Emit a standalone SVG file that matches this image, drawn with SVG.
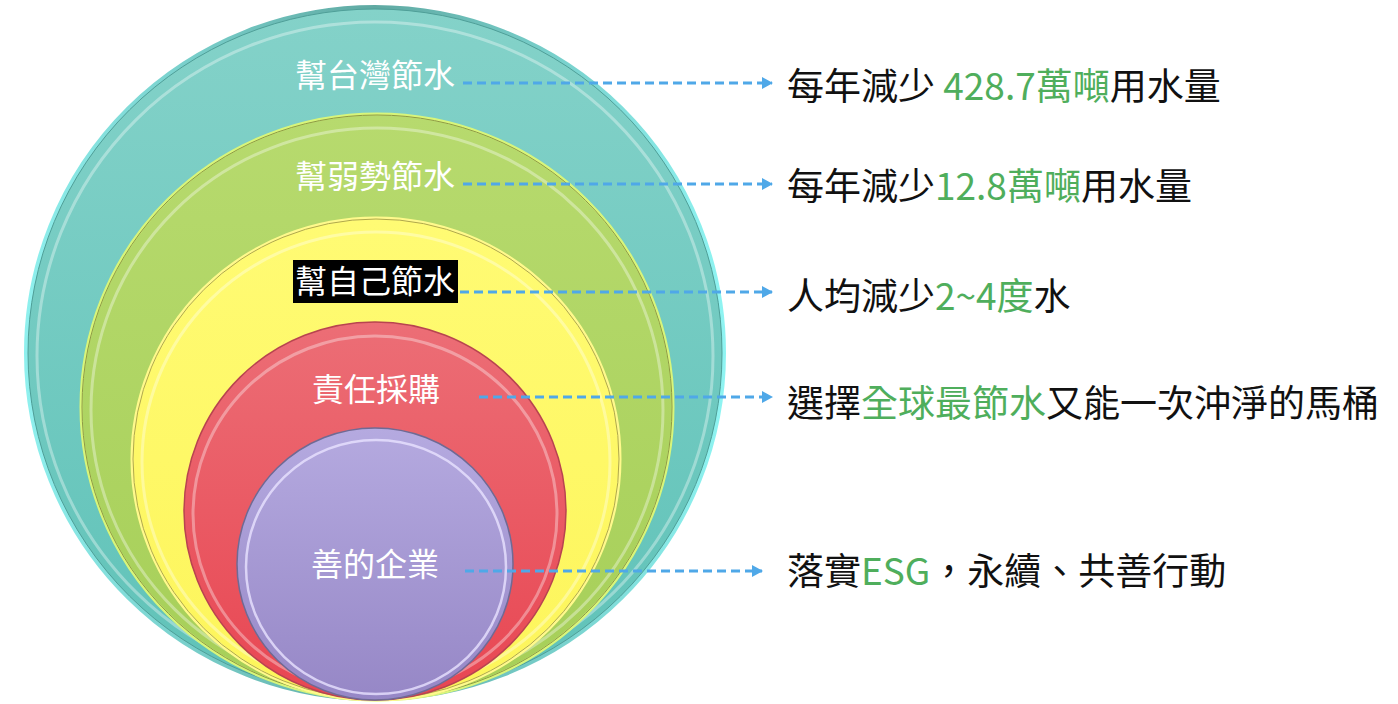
<svg xmlns="http://www.w3.org/2000/svg" width="1398" height="704" viewBox="0 0 1398 704">
<style>
.lbl{font-family:"Noto Sans CJK TC","Noto Sans",sans-serif;font-size:32px;fill:#ffffff;text-anchor:middle}
.txt{font-family:"Noto Sans CJK TC","Noto Sans",sans-serif;font-size:37px;fill:#111111}
.g{fill:#4fae5c}
.conn{stroke:#4fa8e8;stroke-width:3.2;stroke-dasharray:9 5;fill:none}
.rim{fill:none;stroke:#ffffff;stroke-opacity:0.35;stroke-width:3}
</style>
<defs>
<linearGradient id="gTeal" x1="0" y1="0" x2="0" y2="1"><stop offset="0" stop-color="#84d2c9"/><stop offset="1" stop-color="#5fc2b8"/></linearGradient>
<linearGradient id="gGreen" x1="0" y1="0" x2="0" y2="1"><stop offset="0" stop-color="#b7da6e"/><stop offset="1" stop-color="#a6cf58"/></linearGradient>
<linearGradient id="gYellow" x1="0" y1="0" x2="0" y2="1"><stop offset="0" stop-color="#fffb74"/><stop offset="1" stop-color="#fdf55a"/></linearGradient>
<linearGradient id="gRed" x1="0" y1="0" x2="0" y2="1"><stop offset="0" stop-color="#ec6e76"/><stop offset="1" stop-color="#e84652"/></linearGradient>
<linearGradient id="gPurple" x1="0" y1="0" x2="0" y2="1"><stop offset="0" stop-color="#b5aae0"/><stop offset="1" stop-color="#9687c6"/></linearGradient>
<linearGradient id="gRimTeal" x1="0" y1="0" x2="1" y2="0"><stop offset="0" stop-color="#8ff0ee"/><stop offset="0.5" stop-color="#5fa9a2"/><stop offset="1" stop-color="#8ff4f2"/></linearGradient>
<marker id="arr" markerWidth="12" markerHeight="12" refX="10" refY="6" orient="auto" markerUnits="userSpaceOnUse"><path d="M0,0 L11,6 L0,12 Z" fill="#4fa8e8"/></marker>
</defs>
<g id="node-taiwan">
<ellipse cx="375" cy="353" rx="349" ry="346" fill="url(#gTeal)" stroke="url(#gRimTeal)" stroke-width="4"/>
<ellipse cx="375" cy="353" rx="347" ry="344" fill="none" stroke="#4f9f98" stroke-width="1"/>
<ellipse class="rim" cx="375" cy="356" rx="338" ry="334"/>
<text class="lbl" x="375" y="87">幫台灣節水</text>
</g>
<g id="node-weak">
<ellipse cx="377" cy="407" rx="296" ry="293" fill="url(#gGreen)" stroke="#d8f57a" stroke-width="3"/>
<ellipse cx="377" cy="407" rx="295" ry="292" fill="none" stroke="#8d9a45" stroke-width="1"/>
<ellipse class="rim" cx="377" cy="410" rx="286" ry="282"/>
<text class="lbl" x="375" y="188">幫弱勢節水</text>
</g>
<g id="node-self">
<ellipse cx="376" cy="459" rx="244" ry="241" fill="url(#gYellow)" stroke="#fff98c" stroke-width="3"/>
<ellipse cx="376" cy="459" rx="243" ry="240" fill="none" stroke="#b0a84a" stroke-width="1"/>
<ellipse class="rim" cx="376" cy="462" rx="234" ry="230"/>
<rect x="293" y="260" width="165" height="43" fill="#000000"/>
<text class="lbl" x="375" y="293">幫自己節水</text>
</g>
<g id="node-procure">
<ellipse cx="375" cy="511" rx="191" ry="189" fill="url(#gRed)" stroke="#b84450" stroke-width="1.5"/>
<ellipse class="rim" cx="375" cy="514" rx="182" ry="178"/>
<text class="lbl" x="376" y="401">責任採購</text>
</g>
<g id="node-good">
<ellipse cx="375" cy="564" rx="138" ry="136" fill="url(#gPurple)" stroke="#6f6a94" stroke-width="1.5"/>
<ellipse cx="376" cy="567" rx="130" ry="127" fill="none" stroke="#e8e2ff" stroke-opacity="0.8" stroke-width="2.5"/>
<text class="lbl" x="375" y="576">善的企業</text>
</g>
<g id="connectors">
<line class="conn" x1="463" y1="83" x2="772" y2="83" marker-end="url(#arr)"/>
<line class="conn" x1="463" y1="184" x2="772" y2="184" marker-end="url(#arr)"/>
<line class="conn" x1="460" y1="292" x2="772" y2="292" marker-end="url(#arr)"/>
<line class="conn" x1="479" y1="397" x2="772" y2="397" marker-end="url(#arr)"/>
<line class="conn" x1="465" y1="571" x2="762" y2="571" marker-end="url(#arr)"/>
</g>
<g id="texts">
<text class="txt" x="787" y="100">每年減少 <tspan class="g">428.7萬噸</tspan>用水量</text>
<text class="txt" x="787" y="200">每年減少<tspan class="g">12.8萬噸</tspan>用水量</text>
<text class="txt" x="787" y="310">人均減少<tspan class="g">2~4度</tspan>水</text>
<text class="txt" x="787" y="417">選擇<tspan class="g">全球最節水</tspan>又能一次沖淨的馬桶</text>
<text class="txt" x="787" y="585">落實<tspan class="g">ESG</tspan>，永續、共善行動</text>
</g>
</svg>
